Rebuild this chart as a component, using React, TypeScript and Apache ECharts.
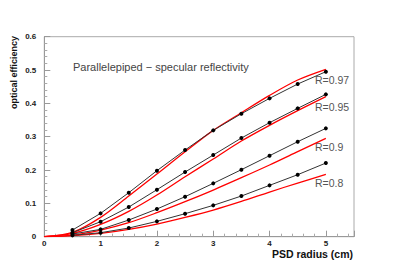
import React, { useEffect, useRef } from "react";
import * as echarts from "echarts";

const xPoints = [0.5, 1, 1.5, 2, 2.5, 3, 3.5, 4, 4.5, 5];
const xCurve = [0, 0.5, 1, 1.5, 2, 2.5, 3, 3.5, 4, 4.5, 5];

const black097 = [0.02, 0.07, 0.132, 0.198, 0.26, 0.319, 0.369, 0.415, 0.458, 0.495];
const black095 = [0.012, 0.045, 0.089, 0.141, 0.194, 0.245, 0.296, 0.342, 0.385, 0.427];
const black090 = [0.008, 0.022, 0.05, 0.083, 0.12, 0.16, 0.201, 0.243, 0.285, 0.325];
const black080 = [0.004, 0.012, 0.026, 0.046, 0.069, 0.094, 0.122, 0.154, 0.186, 0.221];

const red097 = [0, 0.013, 0.058, 0.122, 0.188, 0.255, 0.319, 0.372, 0.424, 0.47, 0.502];
const red095 = [0, 0.01, 0.037, 0.076, 0.125, 0.18, 0.233, 0.287, 0.334, 0.378, 0.42];
const red090 = [0, 0.005, 0.02, 0.042, 0.072, 0.105, 0.14, 0.177, 0.215, 0.255, 0.295];
const red080 = [0, 0.003, 0.01, 0.022, 0.038, 0.058, 0.08, 0.106, 0.134, 0.161, 0.187];

const curveLabels = ["R=0.97", "R=0.95", "R=0.9", "R=0.8"];
const titleText = "Parallelepiped \u2212 specular reflectivity";

export default function App() {
  const ref = useRef<HTMLDivElement>(null);
  useEffect(() => {
    if (!ref.current) return;
    const chart = echarts.init(ref.current, null, { renderer: "svg" });
    const pts = (ys: number[]) => xPoints.map((x, i) => [x, ys[i]]);
    const crv = (ys: number[]) => xCurve.map((x, i) => [x, ys[i]]);
    const blackSeries = [black097, black095, black090, black080].map((ys) => ({
      type: "line",
      data: pts(ys),
      symbol: "circle",
      symbolSize: 4,
      itemStyle: { color: "#000" },
      lineStyle: { color: "#333", width: 1 },
      z: 3,
    }));
    const redSeries = [red097, red095, red090, red080].map((ys) => ({
      type: "line",
      data: crv(ys),
      symbol: "none",
      smooth: 0.3,
      lineStyle: { color: "#ff0000", width: 1.3 },
      z: 2,
    }));
    const labelY = [80, 107, 147, 183];
    chart.setOption({
      animation: false,
      grid: {
        left: 44.3,
        right: 44,
        top: 36.7,
        bottom: 36.3,
        show: true,
        borderColor: "#aaa",
        borderWidth: 1,
      },
      xAxis: {
        type: "value",
        min: 0,
        max: 5.5,
        interval: 1,
        axisLine: { show: true, lineStyle: { color: "#999" } },
        axisTick: { show: true, inside: true, length: 6, lineStyle: { color: "#999" } },
        minorTick: { show: true, splitNumber: 5, length: 3, lineStyle: { color: "#aaa" } },
        splitLine: { show: false },
        axisLabel: {
          margin: 3,
          fontFamily: "Liberation Sans",
          fontWeight: "bold",
          fontSize: 8,
          color: "#222",
          formatter: (v: number) => (v > 5.01 ? "" : String(v)),
        },
      },
      yAxis: {
        type: "value",
        min: 0,
        max: 0.6,
        interval: 0.1,
        axisLine: { show: true, lineStyle: { color: "#999" } },
        axisTick: { show: true, inside: true, length: 6, lineStyle: { color: "#999" } },
        minorTick: { show: true, splitNumber: 5, length: 3, lineStyle: { color: "#aaa" } },
        splitLine: { show: false },
        axisLabel: {
          margin: 8,
          fontFamily: "Liberation Sans",
          fontWeight: "bold",
          fontSize: 8,
          color: "#222",
          formatter: (v: number) => (v === 0 ? "0" : v.toFixed(1)),
        },
      },
      series: [...redSeries, ...blackSeries],
      graphic: [
        {
          type: "text",
          left: 73,
          top: 61,
          style: {
            text: titleText,
            fontFamily: "Liberation Sans",
            fontSize: 11,
            fill: "#444",
          },
        },
        ...curveLabels.map((t, i) => ({
          type: "text",
          left: 315,
          top: labelY[i] - 6,
          style: {
            text: t,
            fontFamily: "Liberation Sans",
            fontSize: 10.5,
            fill: "#555",
          },
        })),
        {
          type: "text",
          right: 45,
          top: 248,
          style: {
            text: "PSD radius (cm)",
            fontFamily: "Liberation Sans",
            fontWeight: "bold",
            fontSize: 10.5,
            fill: "#111",
          },
        },
        {
          type: "text",
          left: 9,
          top: 36,
          rotation: Math.PI / 2,
          originX: 0,
          originY: 0,
          style: {
            text: "optical efficiency",
            fontFamily: "Liberation Sans",
            fontWeight: "bold",
            fontSize: 9,
            fill: "#111",
          },
        },
      ],
    });
    return () => chart.dispose();
  }, []);
  return <div ref={ref} style={{ width: 398, height: 273, position: "absolute", left: 0, top: 0 }} />;
}
